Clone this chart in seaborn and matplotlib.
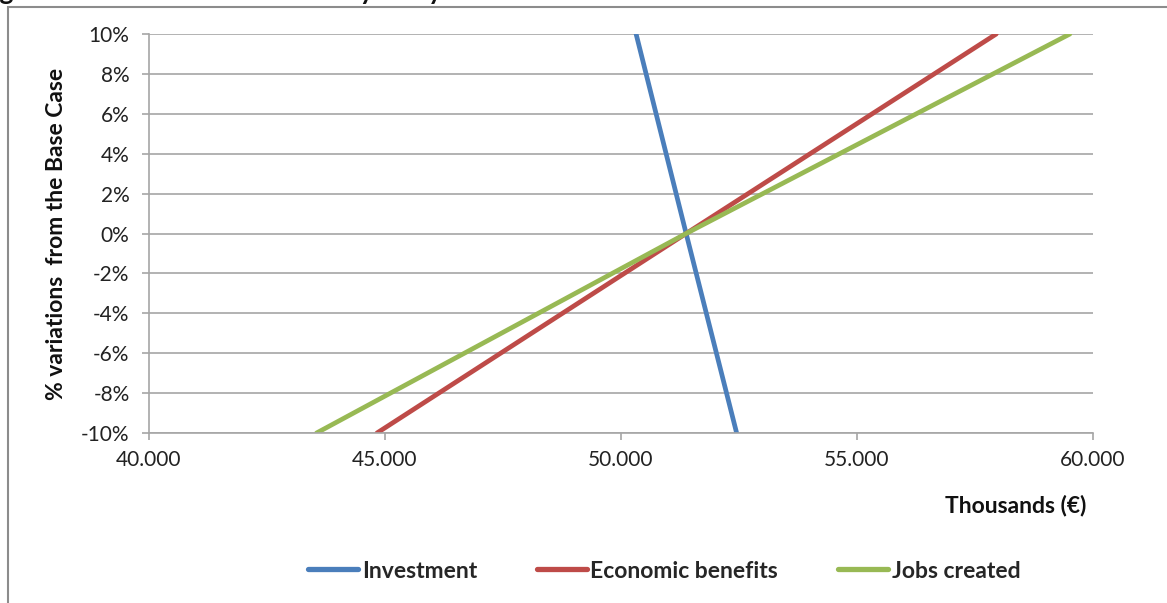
import matplotlib
matplotlib.use("Agg")
import matplotlib.pyplot as plt
import seaborn as sns
import pandas as pd
from matplotlib.patches import Rectangle
from matplotlib.ticker import FuncFormatter

# ---- data ----
variation_pct = [-10, 0, 10]
investment = [52450, 51380, 50320]
economic_benefits = [44830, 51380, 57950]
jobs_created = [43550, 51380, 59510]
series_names = ["Investment", "Economic benefits", "Jobs created"]
series_colors = ["#4A7EBB", "#BE4B48", "#98B954"]
x_ticks = [40000, 45000, 50000, 55000, 60000]
y_ticks = [-10, -8, -6, -4, -2, 0, 2, 4, 6, 8, 10]

rows = []
for name, vals in zip(series_names, [investment, economic_benefits, jobs_created]):
    for v, x in zip(variation_pct, vals):
        rows.append({"series": name, "value": x, "pct": v})
df = pd.DataFrame(rows)

sns.set_theme(style="white")
plt.rcParams["font.family"] = ["Lato", "DejaVu Sans"]

W, H = 1167, 603
fig = plt.figure(figsize=(W / 100, H / 100), dpi=100)
ax = fig.add_axes([149 / W, 1 - 433 / H, (1093 - 149) / W, (433 - 34) / H])

# chart frame
fig.patches.append(Rectangle((8 / W, -0.05), 1.2, 1 - 7 / H + 0.05,
                             transform=fig.transFigure, fill=False,
                             edgecolor="#8c8c8c", linewidth=1.5))

sns.lineplot(data=df, x="value", y="pct", hue="series", hue_order=series_names,
             palette=series_colors, linewidth=3.4, sort=False, ax=ax,
             estimator=None, legend=False)

ax.set_xlim(40000, 60000)
ax.set_ylim(-10, 10)
ax.set_xticks(x_ticks)
ax.set_yticks(y_ticks)
ax.xaxis.set_major_formatter(FuncFormatter(lambda v, p: f"{int(v):,}".replace(",", ".")))
ax.yaxis.set_major_formatter(FuncFormatter(lambda v, p: f"{int(round(v))}%"))
ax.yaxis.grid(True, color="#a6a6a6", linewidth=1.2)
ax.xaxis.grid(False)
ax.set_axisbelow(True)
for s in ["top", "right"]:
    ax.spines[s].set_visible(False)
for s in ["left", "bottom"]:
    ax.spines[s].set_color("#a6a6a6")
    ax.spines[s].set_linewidth(1.2)
ax.tick_params(axis="both", which="major", length=5, width=1.2, color="#a6a6a6",
               labelsize=15, labelcolor="#222222", direction="out")
ax.tick_params(axis="x", pad=7)
ax.tick_params(axis="y", pad=9, left=True)
ax.tick_params(axis="x", bottom=True)

ax.set_xlabel("")
ax.set_ylabel("% variations  from the Base Case", fontsize=16.5, fontweight="bold",
              color="#111111", labelpad=10)
fig.text(1086 / W, 1 - 505 / H, "Thousands (€)", fontsize=16.5, fontweight="bold",
         color="#111111", ha="right", va="center")

# legend
handles = [plt.Line2D([], [], color=c, linewidth=3.8) for c in series_colors]
fig.legend(handles, series_names, loc="center", bbox_to_anchor=(664 / W, 1 - 571 / H),
           ncol=3, frameon=False, handlelength=2.2, handletextpad=0.15,
           columnspacing=2.6, prop={"size": 16.5, "weight": "bold"})

# cut-off title at very top
fig.text(-22 / W, 1.0, "Figure 1: Results of the sensitivity analysis", fontsize=19,
         fontweight="bold", va="baseline", ha="left", color="#111111")

fig.savefig("out.png", dpi=100)
